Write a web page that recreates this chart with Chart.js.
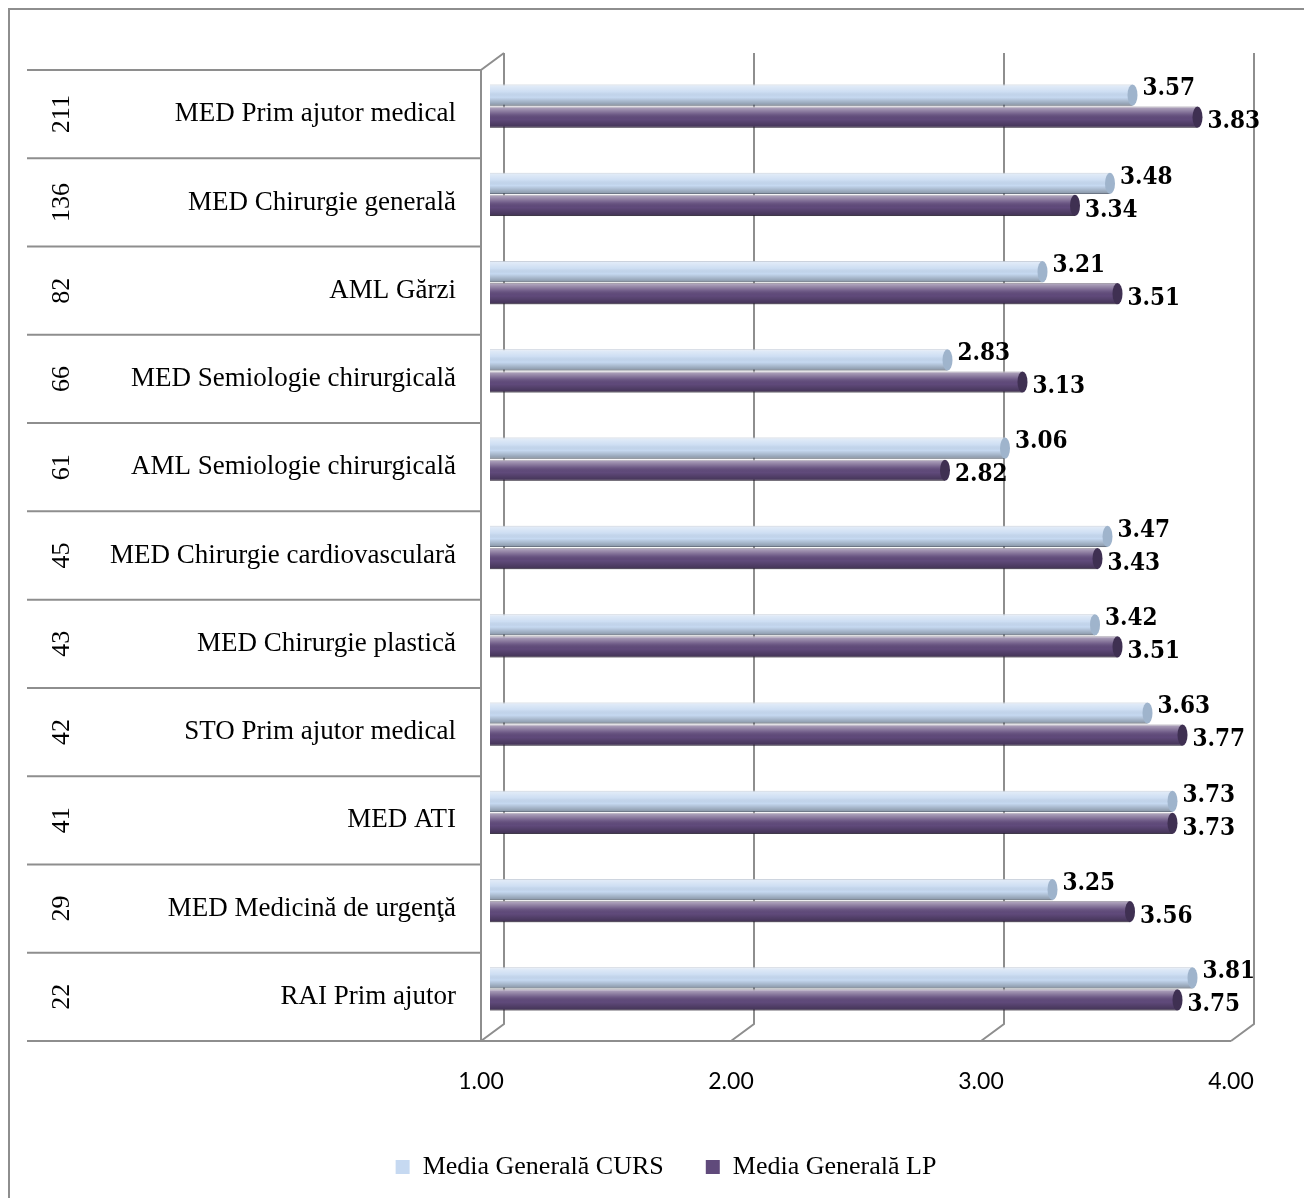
<!DOCTYPE html>
<html>
<head>
<meta charset="utf-8">
<script src="https://cdn.jsdelivr.net/npm/chart.js@4.4.1/dist/chart.umd.min.js"></script>
<style>
  body { margin: 0; background: #fff; }
  #wrap { width: 1304px; height: 1198px; position: relative; }
</style>
</head>
<body>
<div id="wrap"><canvas id="chart"></canvas></div>
<script>
// categorii (număr respondenți + disciplină)
const categories = [
  "MED Prim ajutor medical",
  "MED Chirurgie generală",
  "AML Gărzi",
  "MED Semiologie chirurgicală",
  "AML Semiologie chirurgicală",
  "MED Chirurgie cardiovasculară",
  "MED Chirurgie plastică",
  "STO Prim ajutor medical",
  "MED ATI",
  "MED Medicină de urgenţă",
  "RAI Prim ajutor",
];
const respondents = [211, 136, 82, 66, 61, 45, 43, 42, 41, 29, 22];
const mediaCurs = [3.57, 3.48, 3.21, 2.83, 3.06, 3.47, 3.42, 3.63, 3.73, 3.25, 3.81];
const mediaLP = [3.83, 3.34, 3.51, 3.13, 2.82, 3.43, 3.51, 3.77, 3.73, 3.56, 3.75];
const xTicks = [1, 2, 3, 4];

const GRID = "#8e8e8e";
const DX = 23, DY = 17; // adancime 3D

Chart.defaults.font.family = "'Liberation Serif', serif";
Chart.defaults.color = "#000";

// perete, podea, tabel din stanga si chenar
const frame = {
  id: "frame",
  beforeDatasetsDraw(chart) {
    const ctx = chart.ctx;
    const xs = chart.scales.x, ys = chart.scales.y;
    const half = (ys.getPixelForValue(1) - ys.getPixelForValue(0)) / 2;
    const top = ys.getPixelForValue(0) - half + 8;
    const bottom = ys.getPixelForValue(categories.length - 1) + half + 8;
    const front = v => xs.getPixelForValue(v) - 9;
    ctx.save();
    ctx.strokeStyle = GRID;
    ctx.lineWidth = 2;
    ctx.beginPath();
    // chenar exterior
    ctx.moveTo(9, chart.height); ctx.lineTo(9, 9); ctx.lineTo(chart.width, 9);
    // linii tabel
    for (let i = 0; i <= categories.length; i++) {
      const y = top + i * half * 2;
      ctx.moveTo(27, y); ctx.lineTo(front(1), y);
    }
    // podea
    ctx.moveTo(front(1), bottom); ctx.lineTo(front(4), bottom);
    // perete stanga
    ctx.moveTo(front(1), bottom); ctx.lineTo(front(1), top);
    ctx.lineTo(front(1) + DX, top - DY);
    xTicks.forEach(v => {
      const bx = front(v) + DX;
      ctx.moveTo(bx, top - DY); ctx.lineTo(bx, bottom - DY); ctx.lineTo(front(v), bottom);
    });
    ctx.stroke();
    // numar respondenti, rotit
    ctx.fillStyle = "#000";
    ctx.font = "26px 'Liberation Serif'";
    ctx.textAlign = "center";
    ctx.textBaseline = "middle";
    respondents.forEach((n, i) => {
      ctx.save();
      ctx.translate(62, ys.getPixelForValue(i) + 8);
      ctx.rotate(-Math.PI / 2);
      ctx.fillText(String(n), 0, 0);
      ctx.restore();
    });
    ctx.restore();
  },
  afterDatasetsDraw(chart) {
    const ctx = chart.ctx;
    const left = chart.chartArea.left;
    ctx.save();
    chart.data.datasets.forEach((ds, di) => {
      const meta = chart.getDatasetMeta(di);
      meta.data.forEach((bar, i) => {
        const h = bar.height, y0 = bar.y - h / 2;
        const x0 = Math.max(bar.base, left);
        // umbrire cilindru
        const g = ctx.createLinearGradient(0, y0, 0, y0 + h);
        g.addColorStop(0, "rgba(255,255,255,0.55)");
        g.addColorStop(0.35, "rgba(255,255,255,0.12)");
        g.addColorStop(0.6, "rgba(0,0,0,0)");
        g.addColorStop(1, "rgba(0,0,0,0.32)");
        ctx.fillStyle = g;
        ctx.fillRect(x0, y0, bar.x - x0, h);
        // capat
        ctx.beginPath();
        ctx.ellipse(bar.x, bar.y, 5, h / 2, 0, 0, Math.PI * 2);
        ctx.fillStyle = di === 0 ? "#9fb4cc" : "#3f3052";
        ctx.fill();
        // eticheta
        ctx.fillStyle = "#000";
        ctx.font = "bold 24px 'DejaVu Serif Condensed', 'DejaVu Serif'";
        ctx.textAlign = "left";
        ctx.textBaseline = "middle";
        ctx.fillText(ds.data[i].toFixed(2), bar.x + 10, bar.y + (di === 0 ? -6 : 5));
      });
    });
    ctx.restore();
  }
};

new Chart(document.getElementById("chart"), {
  type: "bar",
  data: {
    labels: categories,
    datasets: [
      {
        label: "Media Generală CURS",
        data: mediaCurs,
        backgroundColor: "#c6d9f1",
        borderColor: "rgba(110,130,160,0.7)",
        borderWidth: 1,
        borderSkipped: false,
        categoryPercentage: 0.5,
        barPercentage: 0.96,
      },
      {
        label: "Media Generală LP",
        data: mediaLP,
        backgroundColor: "#604a7b",
        borderColor: "rgba(50,38,66,0.8)",
        borderWidth: 1,
        borderSkipped: false,
        categoryPercentage: 0.5,
        barPercentage: 0.96,
      },
    ],
  },
  options: {
    indexAxis: "y",
    responsive: true,
    maintainAspectRatio: false,
    animation: false,
    layout: { padding: { left: 92, top: 62, right: 64, bottom: 8 } },
    plugins: {
      legend: {
        position: "bottom",
        labels: {
          boxWidth: 14,
          boxHeight: 14,
          padding: 42,
          font: { size: 26 },
          color: "#000",
          generateLabels: chart =>
            Chart.defaults.plugins.legend.labels.generateLabels(chart)
              .map(l => ({ ...l, lineWidth: 0 })),
        },
      },
      tooltip: { enabled: false },
    },
    scales: {
      x: {
        min: 1,
        max: 4,
        afterFit: s => { s.height = 79; },
        afterBuildTicks: s => { s.ticks = xTicks.map(v => ({ value: v })); },
        grid: { display: false, drawTicks: false },
        border: { display: false },
        ticks: {
          padding: 35,
          labelOffset: -9,
          font: { family: "Lato", size: 23 },
          color: "#000",
          callback: v => Number(v).toFixed(2),
        },
      },
      y: {
        afterFit: s => { s.width = 398; },
        grid: { display: false, drawTicks: false },
        border: { display: false },
        ticks: {
          padding: 34,
          labelOffset: 8,
          font: { size: 27 },
          color: "#000",
        },
      },
    },
  },
  plugins: [frame],
});
</script>
</body>
</html>
